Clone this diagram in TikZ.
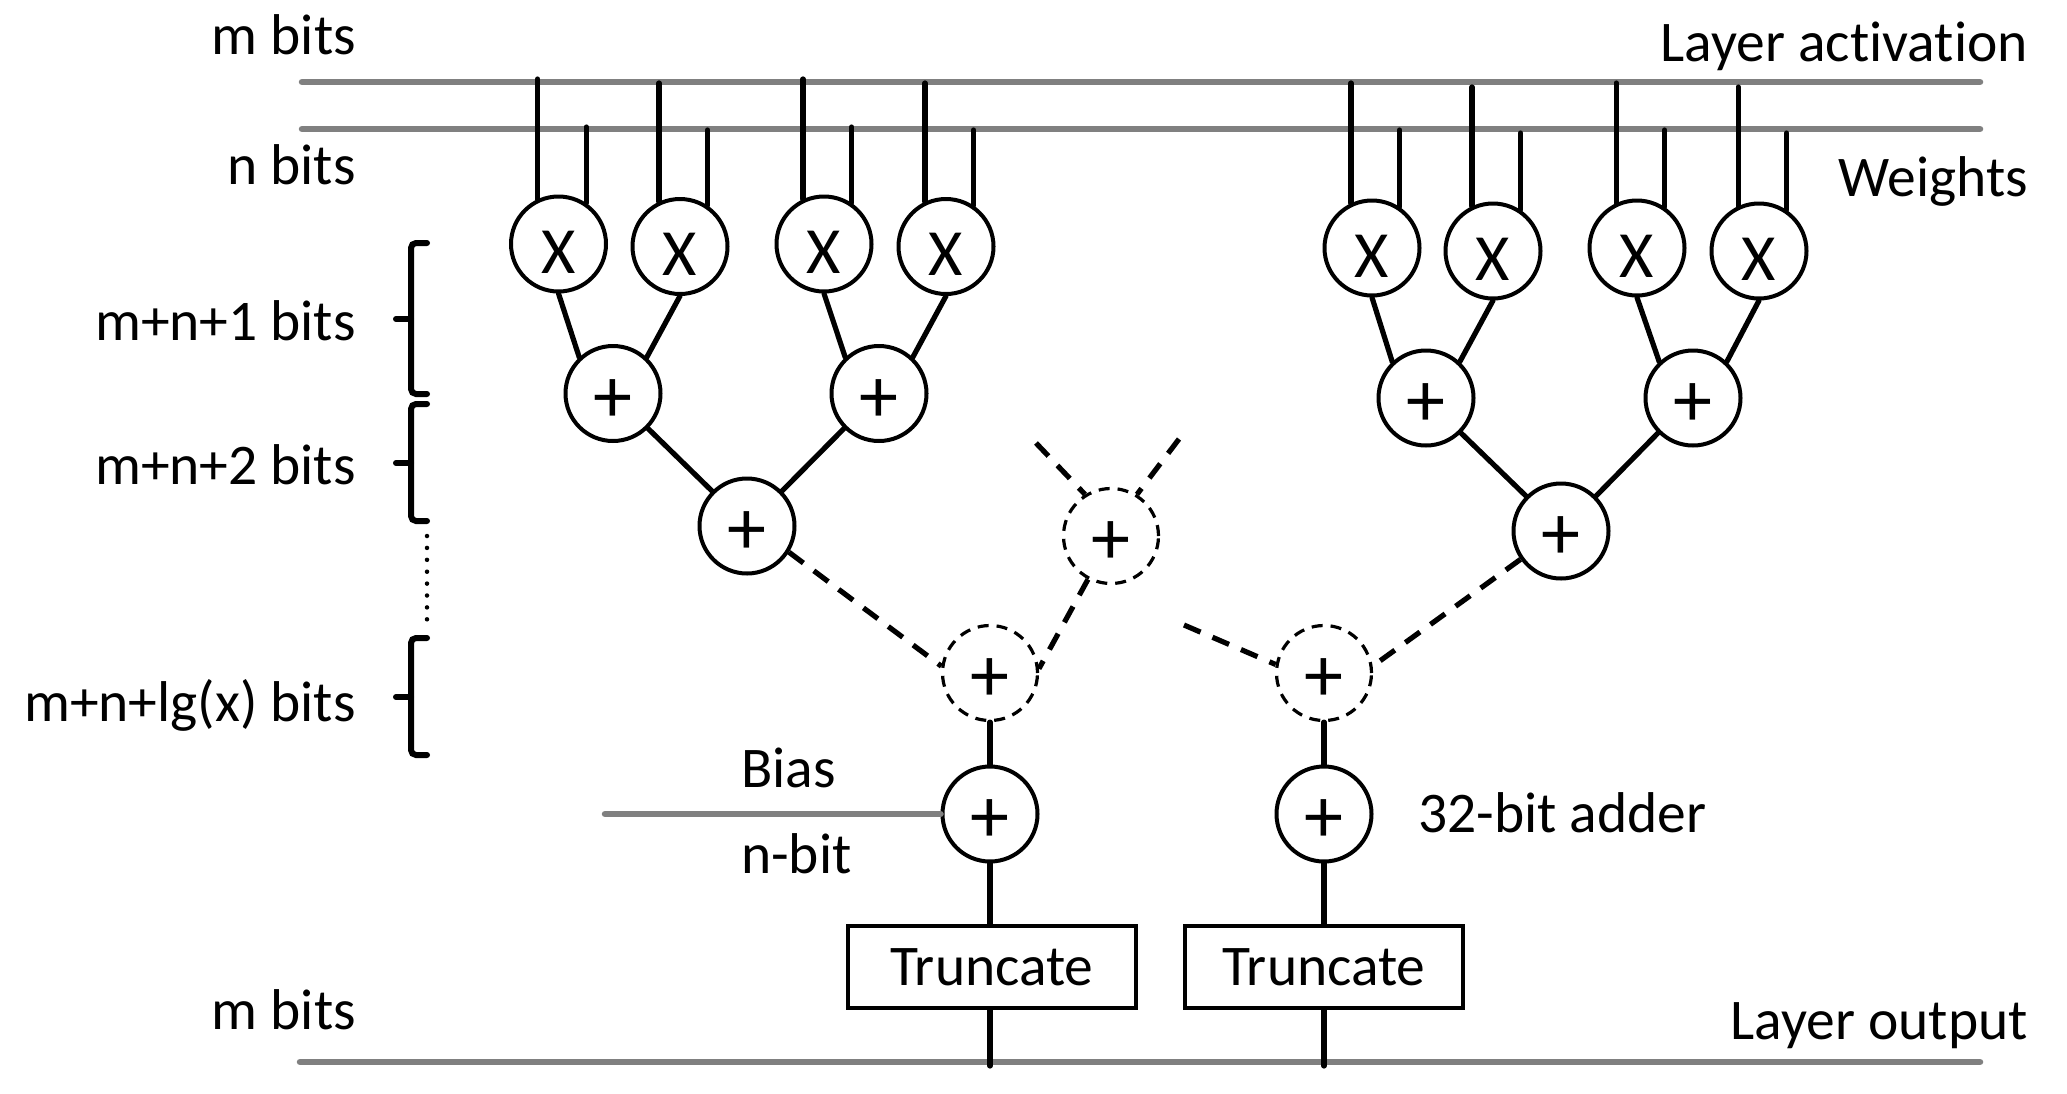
\documentclass[tikz,border=0pt]{standalone}
\usepackage{fontspec}
\setmainfont{Carlito}[Ligatures=NoCommon]
\newcommand{\txtfont}{\fontsize{57.5}{62}\selectfont}
\newcommand{\symX}{\smash{\raisebox{-29pt}{\fontsize{66}{70}\selectfont X}}}
\newcommand{\symP}{\smash{\raisebox{-28.5pt}{\fontsize{78}{82}\selectfont +}}}
\tikzset{
  opcirc/.style={circle,draw=black,line width=4pt,minimum size=95pt,inner sep=0pt,fill=white},
  opdash/.style={circle,draw=black,line width=3.2pt,dash pattern=on 11pt off 8pt,minimum size=95pt,inner sep=0pt},
  bus/.style={draw={rgb,255:red,128;green,128;blue,128},line width=6.5pt,line cap=round},
  wire/.style={draw=black,line width=5.2pt,line cap=round},
  dwire/.style={draw=black,line width=5.2pt,dash pattern=on 18pt off 13pt},
  brk/.style={draw=black,line width=6pt,line cap=round,rounded corners=5pt},
  lbl/.style={font=\txtfont,inner sep=0pt,text=black},
  boxn/.style={draw=black,line width=4pt,minimum height=82pt,inner sep=0pt,font=\txtfont},
}
\begin{document}
\begin{tikzpicture}[x=1pt,y=-1pt]
\useasboundingbox (0,0) rectangle (2067,1093);
% buses
\coordinate (t1l) at (302,82); \coordinate (t1r) at (1980,82);
\coordinate (t2l) at (302,129); \coordinate (t2r) at (1980,129);
\coordinate (bl) at (300,1062); \coordinate (br) at (1980,1062);
\coordinate (bs) at (605,814);
\draw[bus] (t1l) -- (t1r);
\draw[bus] (t2l) -- (t2r);
\draw[bus] (bl) -- (br);
% nodes
\foreach \n/\x/\y in {xa/558.5/244,xb/680/246.5,xc/824/244,xd/946/246.5,xe/1372/248,xf/1493/251,xg/1637/248,xh/1759/251}
  \node[opcirc] (\n) at (\x,\y) {\symX};
\foreach \n/\x/\y in {pa/613/393.5,pb/879/393.5,pc/747/526,pd/1426/398,pe/1693/398,pf/1561/531,pl/990/814,pr/1324/814}
  \node[opcirc] (\n) at (\x,\y) {\symP};
\foreach \n/\x/\y in {da/990/673,db/1111/536,dc/1324/673}
  \node[opdash] (\n) at (\x,\y) {\symP};
\node[boxn,minimum width=288pt] (ta) at (992,967) {\raisebox{-5pt}{Truncate}};
\node[boxn,minimum width=278pt] (tb) at (1324,967) {\raisebox{-5pt}{Truncate}};
% wires from the buses
\coordinate (h1) at (0,79); \coordinate (h2) at (0,83); \coordinate (h3) at (0,127); \coordinate (h4) at (0,130);
\coordinate (h5) at (0,87); \coordinate (h6) at (0,133);
\foreach \n/\ha/\hb in {xa/h1/h3,xb/h2/h4,xc/h1/h3,xd/h2/h4,xe/h2/h4,xf/h5/h6,xg/h2/h4,xh/h5/h6}{
  \draw[wire] (\n.115) -- (\n.115 |- \ha);
  \draw[wire] (\n.56) -- (\n.56 |- \hb);
}
% adder tree
\foreach \a/\b in {xa/pa,xc/pb,xe/pd,xg/pe} \draw[wire] (\a.south) -- (\b.133);
\foreach \a/\b in {xb/pa,xd/pb,xf/pd,xh/pe} \draw[wire] (\a.south) -- (\b.47);
\foreach \a/\b in {pa/pc,pd/pf} \draw[wire] (\a.-45) -- (\b.135);
\foreach \a/\b in {pb/pc,pe/pf} \draw[wire] (\a.-135) -- (\b.45);
% dashed links
\coordinate (fa) at (1036,443); \coordinate (fb) at (1179,439); \coordinate (fc) at (1184,625);
\draw[dwire] (pc.-32) -- (da.172);
\draw[dwire] (db.-118) -- (da.5);
\draw[dwire] (fa) -- (db.122);
\draw[dwire] (fb) -- (db.58);
\draw[dwire] (fc) -- (dc.170);
\draw[dwire] (pf.-145) -- (dc.8);
% lower verticals
\draw[wire] (da.south) -- (pl.north);
\draw[wire] (dc.south) -- (pr.north);
\draw[wire] (pl.south) -- (ta.north -| pl.south);
\draw[wire] (pr.south) -- (tb.north);
\coordinate (ba) at (990,1066); \coordinate (bb) at (1324,1066);
\draw[wire] (ta.south -| ba) -- (ba);
\draw[wire] (tb.south) -- (bb);
\draw[bus] (bs) -- (pl.west);
% brackets
\draw[brk] (427,243) -- (411,243) -- (411,394) -- (427,394);
\draw[brk,rounded corners=0pt] (396,319) -- (411,319);
\draw[brk] (427,404) -- (411,404) -- (411,521) -- (427,521);
\draw[brk,rounded corners=0pt] (396,463) -- (411,463);
\draw[brk] (427,638) -- (411,638) -- (411,755) -- (427,755);
\draw[brk,rounded corners=0pt] (396,697) -- (411,697);
\draw[draw=black,line width=4.5pt,line cap=round,dash pattern=on 0pt off 11.9pt] (427,536) -- (427,622);
% labels
\node[lbl,anchor=base east] (l1) at (356,54) {m bits};
\node[lbl,anchor=base east] (l2) at (356,184) {n bits};
\node[lbl,anchor=base east] (l3) at (356,340) {m+n+1 bits};
\node[lbl,anchor=base east] (l4) at (356,484) {m+n+2 bits};
\node[lbl,anchor=base east] (l5) at (356,721) {m+n+lg(x) bits};
\node[lbl,anchor=base east] (l6) at (356,1029) {m bits};
\node[lbl,anchor=base east] (l7) at (2028,61) {Layer activation};
\node[lbl,anchor=base east] (l8) at (2028,196) {Weights};
\node[lbl,anchor=base east] (l9) at (2028,1039) {Layer output};
\node[lbl,anchor=base west] (l10) at (741,787) {Bias};
\node[lbl,anchor=base west] (l11) at (741,873) {n-bit};
\node[lbl,anchor=base west] (l12) at (1418,832) {32-bit adder};
\end{tikzpicture}
\end{document}
